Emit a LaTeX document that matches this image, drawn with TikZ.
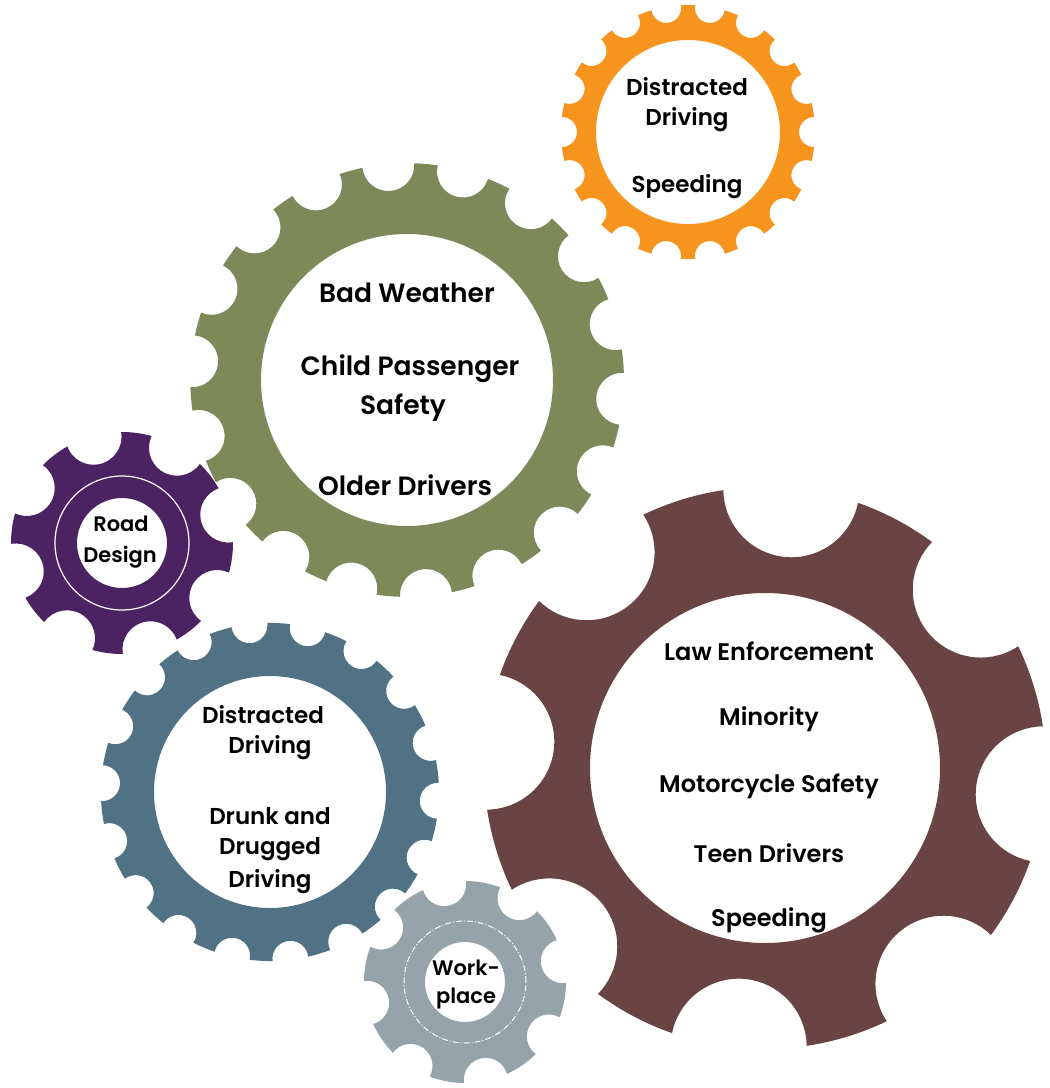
\documentclass[tikz,border=0pt]{standalone}
\usepackage{fontspec}
\setmainfont{Poppins}[BoldFont={Poppins SemiBold}]
\definecolor{gOrange}{RGB}{247,148,30}
\definecolor{gOlive}{RGB}{126,137,89}
\definecolor{gPurple}{RGB}{75,35,98}
\definecolor{gBlue}{RGB}{80,114,132}
\definecolor{gBrown}{RGB}{106,68,66}
\definecolor{gGray}{RGB}{149,163,171}
% #1,#2 centre; #3 outer radius; #4 hole radius; #5 notches; #6 first notch angle;
% #7 notch radius; #8 distance of notch centre; #9 colour
\newcommand\mygear[9]{%
  \pgfmathsetmacro\gB{acos((#3/#8 + #8/#3 - (#7/#3)*(#7/#8))/2)}%
  \pgfmathsetmacro\gF{acos((#8/#7 + #7/#8 - (#3/#8)*(#3/#7))/2)}%
  \pgfmathsetmacro\gS{360/#5}%
  \begin{scope}[shift={(#1,#2)}]
    \fill[#9, even odd rule] ({#6-\gB}:#3pt)
      \foreach \k in {1,...,#5}{
        arc[start angle={#6+(\k-1)*\gS+180+\gF}, end angle={#6+(\k-1)*\gS+180-\gF}, radius=#7pt]
        arc[start angle={#6+(\k-1)*\gS+\gB}, end angle={#6+\k*\gS-\gB}, radius=#3pt]
      } -- cycle
      (0,0) circle[radius=#4pt];
  \end{scope}}
\begin{document}
\begin{tikzpicture}[x=1pt,y=-1pt,
  lbl/.style={font=\bfseries\fontsize{#1}{#1}\selectfont, text=black, inner sep=0pt, anchor=center},
  lbl/.default=23]
\fill[white] (0,0) rectangle (1050,1088);
\useasboundingbox (0,0) rectangle (1050,1088);

% gear centres
\coordinate (cBrown) at (765,768);
\coordinate (cOlive) at (407,380);
\coordinate (cOrange) at (688,132);
\coordinate (cBlue) at (270,792);
\coordinate (cPurple) at (122,543);
\coordinate (cGray) at (465,982);

\mygear{765}{768}{281}{175}{8}{84.6}{68}{280}{gBrown}
\mygear{407}{380}{217}{146}{18}{-5}{26}{216}{gOlive}
\mygear{688}{132}{127}{92}{18}{0}{15}{126}{gOrange}
\mygear{270}{792}{169}{116}{18}{-3}{18}{168}{gBlue}
\mygear{122}{543}{111}{45}{8}{15}{28}{110}{gPurple}
\mygear{465}{982}{101}{40}{8}{12}{22}{100}{gGray}

\draw[white, line width=1.2pt] (cPurple) circle[radius=67pt];
\draw[white, line width=1pt, dash pattern=on 6pt off 2pt on 1pt off 2pt] (cGray) circle[radius=61pt];

% orange texts
\node[lbl=23] (o1) at (687,87) {Distracted};
\node[lbl=23] (o2) at (687,120) {Driving};
\node[lbl=23] (o3) at (687,187) {Speeding};
% olive texts
\node[lbl=26.5] (v1) at (407,293) {Bad Weather};
\node[lbl=26.5] (v2) at (410,369) {Child Passenger};
\node[lbl=26.5] (v3) at (403,408) {Safety};
\node[lbl=26.5] (v4) at (405,485) {Older Drivers};
% purple texts
\node[lbl=21] (p1) at (121,524) {Road};
\node[lbl=21] (p2) at (120,557) {Design};
% blue texts
\node[lbl=23] (b1) at (263,715) {Distracted};
\node[lbl=23] (b2) at (270,748) {Driving};
\node[lbl=23] (b3) at (270,816) {Drunk and};
\node[lbl=23] (b4) at (270,849) {Drugged};
\node[lbl=23] (b5) at (270,882) {Driving};
% brown texts
\node[lbl=24] (r1) at (769,651) {Law Enforcement};
\node[lbl=24] (r2) at (769,719) {Minority};
\node[lbl=24] (r3) at (769,786) {Motorcycle Safety};
\node[lbl=24] (r4) at (769,853) {Teen Drivers};
\node[lbl=24] (r5) at (769,920) {Speeding};
% gray texts
\node[lbl=21] (g1) at (466,968) {Work-};
\node[lbl=21] (g2) at (466,998) {place};
\end{tikzpicture}
\end{document}
